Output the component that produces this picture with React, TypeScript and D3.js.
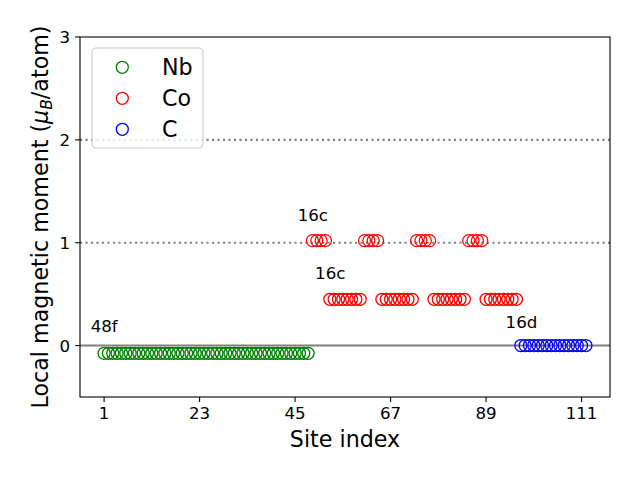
import React from "react";
import * as d3 from "d3";

// ---- data ----
const species = ["Nb", "Co", "C"];
const speciesColors = ["#008000", "#ff0000", "#0000ff"];

// Local magnetic moments (μB/atom), site order 1..112
const nbMoments = [
  -0.075, -0.075, -0.075, -0.075, -0.075, -0.075, -0.075, -0.075, -0.075, -0.075, -0.075, -0.075,
  -0.075, -0.075, -0.075, -0.075, -0.075, -0.075, -0.075, -0.075, -0.075, -0.075, -0.075, -0.075,
  -0.075, -0.075, -0.075, -0.075, -0.075, -0.075, -0.075, -0.075, -0.075, -0.075, -0.075, -0.075,
  -0.075, -0.075, -0.075, -0.075, -0.075, -0.075, -0.075, -0.075, -0.075, -0.075, -0.075, -0.075,
];
const coMoments = [
  1.02, 1.02, 1.02, 1.02, 0.45, 0.45, 0.45, 0.45, 0.45, 0.45, 0.45, 0.45,
  1.02, 1.02, 1.02, 1.02, 0.45, 0.45, 0.45, 0.45, 0.45, 0.45, 0.45, 0.45,
  1.02, 1.02, 1.02, 1.02, 0.45, 0.45, 0.45, 0.45, 0.45, 0.45, 0.45, 0.45,
  1.02, 1.02, 1.02, 1.02, 0.45, 0.45, 0.45, 0.45, 0.45, 0.45, 0.45, 0.45,
];
const cMoments = [
  0.0, 0.0, 0.0, 0.0, 0.0, 0.0, 0.0, 0.0, 0.0, 0.0, 0.0, 0.0, 0.0, 0.0, 0.0, 0.0,
];
const seriesMoments = [nbMoments, coMoments, cMoments];

const xTicks = [1, 23, 45, 67, 89, 111];
const yTicks = [0, 1, 2, 3];
const refLines = [1, 2];

const siteLabels = ["48f", "16c", "16c", "16d"];
const siteLabelX = [-2.1, 45.6, 49.6, 93.5];
const siteLabelY = [0.13, 1.21, 0.65, 0.17];

const W = 640;
const H = 480;
const M = { left: 80, right: 610, top: 37, bottom: 397 };
const FONT = "DejaVu Sans, sans-serif";

export default function App() {
  // build points with site indices
  const points: { x: number; y: number; s: number }[] = [];
  let idx = 1;
  seriesMoments.forEach((arr, s) => {
    arr.forEach((v) => {
      points.push({ x: idx, y: v, s });
      idx += 1;
    });
  });
  const nSites = idx - 1;
  const pad = (nSites - 1) * 0.05;

  const x = d3.scaleLinear().domain([1 - pad, nSites + pad]).range([M.left, M.right]);
  const y = d3.scaleLinear().domain([-0.5, 3]).range([M.bottom, M.top]);

  const r = 6;

  return (
    <svg width={W} height={H} style={{ display: "block", position: "absolute", left: 0, top: 0 }} fontFamily={FONT}>
      <rect x={0} y={0} width={W} height={H} fill="#fff" />
      {/* reference lines */}
      {refLines.map((v) => (
        <line key={v} x1={M.left} x2={M.right} y1={y(v)} y2={y(v)} stroke="#808080" strokeWidth={2.1} strokeDasharray="2.1 3.4" />
      ))}
      <line x1={M.left} x2={M.right} y1={y(0)} y2={y(0)} stroke="#808080" strokeWidth={2} />
      {/* points */}
      {points.map((p, i) => (
        <circle key={i} cx={x(p.x)} cy={y(p.y)} r={r} fill="none" stroke={speciesColors[p.s]} strokeWidth={1.3} />
      ))}
      {/* site labels */}
      {siteLabels.map((t, i) => (
        <text key={i} x={x(siteLabelX[i])} y={y(siteLabelY[i])} fontSize={16.67} fill="#000">
          {t}
        </text>
      ))}
      {/* frame */}
      <rect x={M.left} y={M.top} width={M.right - M.left} height={M.bottom - M.top} fill="none" stroke="#000" strokeWidth={1.1} />
      {/* x ticks */}
      {xTicks.map((t) => (
        <g key={t}>
          <line x1={x(t)} x2={x(t)} y1={M.bottom} y2={M.bottom + 4.9} stroke="#000" strokeWidth={1.1} />
          <text x={x(t)} y={M.bottom + 22.3} fontSize={16.67} textAnchor="middle" fill="#000">
            {t}
          </text>
        </g>
      ))}
      {/* y ticks */}
      {yTicks.map((t) => (
        <g key={t}>
          <line x1={M.left - 4.9} x2={M.left} y1={y(t)} y2={y(t)} stroke="#000" strokeWidth={1.1} />
          <text x={M.left - 9.8} y={y(t) + 6} fontSize={16.67} textAnchor="end" fill="#000">
            {t}
          </text>
        </g>
      ))}
      {/* axis labels */}
      <text x={(M.left + M.right) / 2} y={447} fontSize={22.2} textAnchor="middle" fill="#000">
        Site index
      </text>
      <text transform={`translate(48, ${(M.top + M.bottom) / 2}) rotate(-90)`} fontSize={22.2} textAnchor="middle" fill="#000">
        Local magnetic moment (<tspan fontStyle="italic">μ</tspan>
        <tspan fontStyle="italic" fontSize={15.5} dy={4}>B</tspan>
        <tspan dy={-4}>/atom)</tspan>
      </text>
      {/* legend */}
      <rect x={92} y={48} width={111} height={100} rx={4} ry={4} fill="#fff" fillOpacity={0.8} stroke="#cccccc" strokeWidth={1.1} />
      {species.map((s, i) => (
        <g key={s}>
          <circle cx={122.3} cy={67.3 + i * 31} r={r} fill="none" stroke={speciesColors[i]} strokeWidth={1.3} />
          <text x={162} y={75 + i * 31} fontSize={22.2} fill="#000">
            {s}
          </text>
        </g>
      ))}
    </svg>
  );
}
